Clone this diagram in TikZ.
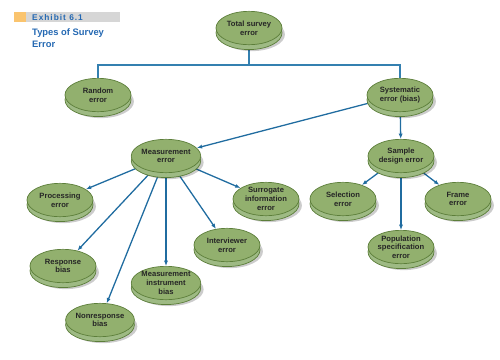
\documentclass[tikz,border=0pt]{standalone}
\usepackage{fontspec}
\setmainfont{Liberation Sans}
\usetikzlibrary{arrows.meta,shapes.geometric,shadows,backgrounds}

\definecolor{discface}{RGB}{146,176,110}
\definecolor{discedge}{RGB}{92,126,58}
\definecolor{discside}{RGB}{158,186,132}
\definecolor{treeblue}{RGB}{52,128,176}
\definecolor{arrowblue}{RGB}{32,108,160}
\definecolor{titleblue}{RGB}{36,104,178}
\definecolor{bandgray}{RGB}{214,214,214}
\definecolor{bandyellow}{RGB}{250,196,110}

\tikzset{
  disc/.style={ellipse,draw=discedge,line width=0.6pt,fill=discface,
    minimum width=1.98cm,minimum height=1cm,inner sep=0pt,align=center,
    font=\fontsize{6.5}{7.4}\selectfont\bfseries,text=black!85,
    drop shadow={shadow xshift=2.5pt,shadow yshift=-5.5pt,opacity=0.2,fill=black},
    general shadow={shadow yshift=-4.2pt,fill=discside,draw=discedge,line width=0.6pt}},
  treeline/.style={draw=treeblue,line width=1.1pt},
  arrowline/.style={draw=arrowblue,line width=1.1pt,-{Latex[length=4.5pt,width=3.5pt]}}
}

\begin{document}
\begin{tikzpicture}[x=0.03cm,y=-0.03cm]
\useasboundingbox (0,0) rectangle (500,359);
% ---------- title ----------
\fill[bandgray] (14,12) rectangle (120,22);
\fill[bandyellow] (14,12) rectangle (26,22);
\node[anchor=base west,inner sep=0pt,text=titleblue,
  font=\fontsize{7.1}{8}\selectfont\bfseries\addfontfeatures{LetterSpace=12}] (exhibit) at (32,20) {Exhibit 6.1};
\node[anchor=north west,inner sep=0pt,align=left,text=titleblue,
  font=\fontsize{8}{10.2}\selectfont\bfseries] (title) at (32,28.5) {Types of Survey\\Error};
% ---------- error discs (three-line texts squeezed) ----------
\foreach \nm/\px/\py/\ys/\txt in {
  total/249/28/0pt/{Total survey\\error},
  random/98/95/0pt/{Random\\error},
  system/400/95/0pt/{Systematic\\error (bias)},
  measure/166/156/0pt/{Measurement\\error},
  process/60/200/0pt/{Processing\\error},
  response/63/266/0pt/{Response\\bias},
  nonresp/100/320/0pt/{Nonresponse\\bias},
  instrument/166/283/-3pt/{Measurement\\instrument\\bias},
  interview/227/245/0pt/{Interviewer\\error},
  surrogate/266/199/-3pt/{Surrogate\\information\\error},
  sample/401/156/0pt/{Sample\\design error},
  select/343/199/0pt/{Selection\\error},
  frame/458/199/0pt/{Frame\\error},
  population/401/247/-3pt/{Population\\specification\\error}}
  \node[disc,inner ysep=\ys] (\nm) at (\px,\py) {\txt};
% ---------- connectors (behind the discs) ----------
\begin{scope}[on background layer]
\coordinate (split) at (249,65);
\draw[treeline] (total) -- (split) -| (random);
\draw[treeline] (split) -| (system);
\foreach \a/\b in {system/measure,system/sample,
  measure/process,measure/response,measure/nonresp,
  measure/instrument,measure/interview,measure/surrogate,
  sample/select,sample/frame,sample/population}
  \draw[arrowline] (\a) -- (\b);
\end{scope}
\end{tikzpicture}
\end{document}
